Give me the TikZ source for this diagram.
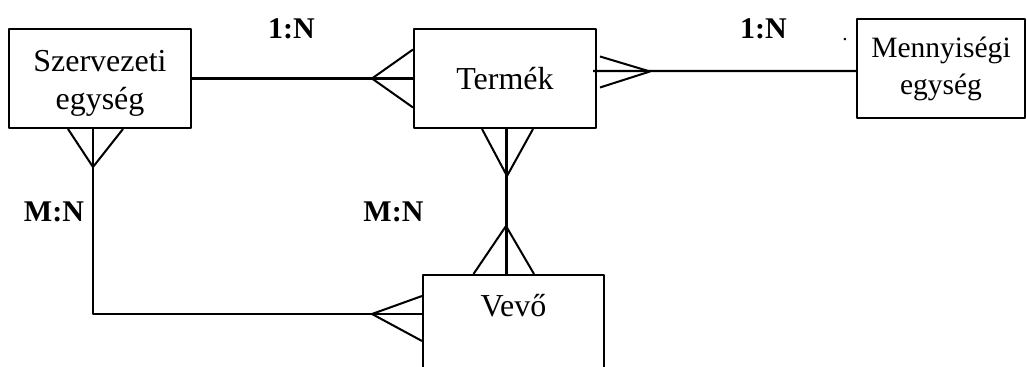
\documentclass[tikz,border=0pt]{standalone}
\usepackage{fontspec}
\setmainfont{Liberation Serif}
\usetikzlibrary{calc}

\begin{document}
\begin{tikzpicture}
        [x = 0.02cm, y = -0.02cm, line width = 1.15pt, line join = round,
        entity/.style = {draw, rectangle, minimum width = 3.64cm, minimum height = 1.98cm, inner sep = 0, align = center, font = {\fontsize{18.2}{21.5}\selectfont}},
        card/.style = {anchor = base, inner sep = 0, font = {\fontsize{17.1}{20}\selectfont\bfseries}}]
        \useasboundingbox (0, 0) rectangle (1027, 367);
        \clip (0, 0) rectangle (1027, 367);
        \node[entity] (szerv) at (100, 78.5) {\\[-4pt]Szervezeti\\egység};
        \node[entity] (termek) at (505, 78.5) {Termék};
        \node[entity, minimum width = 3.36cm, font = {\fontsize{16.8}{21}\selectfont}] (menny) at (941, 68.5) {Mennyiségi\\egység};
        \node[entity, minimum width = 3.62cm] (vevo) at (513.5, 324.5) {Vevő\\\mbox{}};
        \node[card] (c1) at (291.5, 39) {1:N};
        \node[card] (c2) at (763.5, 39) {1:N};
        \node[card] (c3) at (54, 222) {M:N};
        \node[card] (c4) at (393.5, 222) {M:N};
        \node[card, font = {\fontsize{12}{12}\selectfont}] (pont) at (845, 41) {.};
        % Szervezeti egyseg -- Termek
        \draw (szerv.east) -- (termek.west);
        \draw ($(termek.west)+(0,-29)$) -- ++(-41,29) -- ++(41,29);
        % Termek -- Mennyisegi egyseg
        \draw ($(termek.east)+(-4,-7.5)$) -- ($(menny.west)+(0,2.5)$);
        \draw ($(termek.east)+(3,-22)$) -- ++(50,15) -- ++(-50,16);
        % Termek -- Vevo
        \draw ($(termek.south)+(1.5,0)$) -- ($(vevo.north)+(-7,0)$);
        \draw ($(termek.south)+(-23,0)$) -- ++(25,47) -- ++(26,-47);
        \draw ($(vevo.north)+(-40,0)$) -- ++(32.5,-48) -- ++(28,48);
        % Szervezeti egyseg -- Vevo
        \draw ($(szerv.south)+(-7,0)$) |- ($(vevo.west)+(0,-10.5)$);
        \draw ($(szerv.south)+(-32,0)$) -- ++(25,38) -- ++(30,-38);
        \draw ($(vevo.west)+(0,-28.5)$) -- ++(-50,18) -- ++(50,27);
    \end{tikzpicture}
\end{document}
